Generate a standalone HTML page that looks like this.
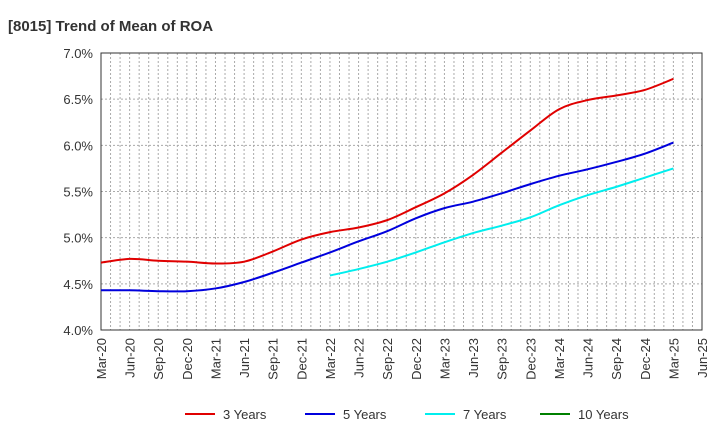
<!DOCTYPE html>
<html><head><meta charset="utf-8"><style>
body{margin:0;background:#fff;font-family:"Liberation Sans",sans-serif}
svg text{font-family:"Liberation Sans",sans-serif}
</style></head><body>
<svg id="c" width="720" height="440" xmlns="http://www.w3.org/2000/svg">
<text x="8" y="31" font-size="15" font-weight="bold" fill="#333">[8015]  Trend of Mean of ROA</text>
<g id="grid"></g><g id="axes"></g><g id="series"></g><g id="legend"></g>
</svg>
<script>
const xLabels=["Mar-20","Jun-20","Sep-20","Dec-20","Mar-21","Jun-21","Sep-21","Dec-21","Mar-22","Jun-22","Sep-22","Dec-22","Mar-23","Jun-23","Sep-23","Dec-23","Mar-24","Jun-24","Sep-24","Dec-24","Mar-25","Jun-25"];
const yTicks=[4.0,4.5,5.0,5.5,6.0,6.5,7.0];
const s3=[4.73,4.77,4.75,4.74,4.72,4.74,4.85,4.98,5.06,5.11,5.19,5.33,5.48,5.68,5.92,6.16,6.39,6.49,6.54,6.60,6.72];
const s5=[4.43,4.43,4.42,4.42,4.45,4.52,4.62,4.73,4.84,4.96,5.07,5.21,5.32,5.39,5.48,5.58,5.67,5.74,5.82,5.91,6.03];
const s7=[4.59,4.66,4.74,4.84,4.95,5.05,5.13,5.22,5.35,5.46,5.55,5.65,5.75];
const s7Start=8;
const s10=[];
const L=101,R=702,T=53,B=330,NS="http://www.w3.org/2000/svg";
const xm=m=>L+(R-L)*m/63, xq=i=>xm(i*3), y=v=>B-(v-4)/3*(B-T);
function mk(t,a,p){const e=document.createElementNS(NS,t);for(const k in a)e.setAttribute(k,a[k]);p.appendChild(e);return e;}
const g=document.getElementById('grid'),ax=document.getElementById('axes'),se=document.getElementById('series'),lg=document.getElementById('legend');
for(let m=1;m<63;m++){const l=mk('line',{x1:xm(m),x2:xm(m),y1:T,y2:B,stroke:'#aaa','stroke-dasharray':'2,2','stroke-width':1},g);

}
yTicks.forEach(v=>{const l=mk('line',{x1:L,x2:R,y1:y(v),y2:y(v),stroke:'#aaa','stroke-dasharray':'2,2'},g);


const t=mk('text',{x:L-8,y:y(v)+5,'text-anchor':'end','font-size':13,fill:'#333'},ax);t.textContent=v.toFixed(1)+'%';

});
const fr=mk('rect',{x:L,y:T,width:R-L,height:B-T,fill:'none',stroke:'#333'},ax);


xLabels.forEach((s,i)=>{const x=xq(i);const t=mk('text',{x:0,y:0,'text-anchor':'end','font-size':13,fill:'#333',transform:`translate(${x+5},${B+8}) rotate(-90)`},ax);t.textContent=s;

});
function path(vals,start){const p=vals.map((v,i)=>[xq(i+start),y(v)]);if(!p.length)return '';let d=`M${p[0][0]},${p[0][1]}`;
for(let i=0;i<p.length-1;i++){const p0=p[i-1]||p[i],p1=p[i],p2=p[i+1],p3=p[i+2]||p2;
d+=` C${p1[0]+(p2[0]-p0[0])/6},${p1[1]+(p2[1]-p0[1])/6} ${p2[0]-(p3[0]-p1[0])/6},${p2[1]-(p3[1]-p1[1])/6} ${p2[0]},${p2[1]}`;}return d;}
const series=[[s3,0,'#e00000','3 Years','line-3-years'],[s5,0,'#0000dd','5 Years','line-5-years'],[s7,s7Start,'#00eeee','7 Years','line-7-years'],[s10,0,'#008000','10 Years','line-10-years']];
const lx=[185,305,425,540];
series.forEach((s,k)=>{if(s[0].length){const p=mk('path',{d:path(s[0],s[1]),fill:'none',stroke:s[2],'stroke-width':2},se);

}
const gi=mk('g',{},lg);


mk('line',{x1:lx[k],x2:lx[k]+30,y1:414,y2:414,stroke:s[2],'stroke-width':2},gi);
const t=mk('text',{x:lx[k]+38,y:419,'font-size':13,fill:'#333'},gi);t.textContent=s[3];});
</script>
</body></html>
